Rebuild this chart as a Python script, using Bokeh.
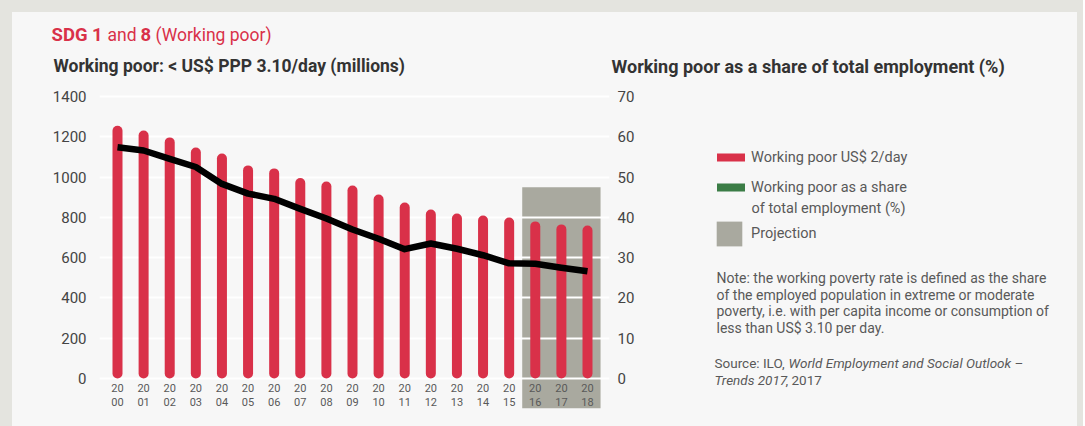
from bokeh.plotting import figure
from bokeh.layouts import column, row
from bokeh.models import (Range1d, LinearAxis, SingleIntervalTicker, Label,
                          Legend, LegendItem)
from bokeh.core.properties import value
from bokeh.embed import file_html
from bokeh.resources import INLINE

# ---------------- data ----------------
years = list(range(2000, 2019))
working_poor_millions = [1255, 1231, 1197, 1147, 1117, 1058, 1043, 995, 978, 958,
                         913, 874, 839, 819, 809, 799, 780, 765, 760]
working_poor_share_pct = [57.4, 56.6, 54.5, 52.5, 48.3, 45.9, 44.6, 42.1, 39.7, 37.0,
                          34.7, 32.1, 33.5, 32.2, 30.6, 28.6, 28.5, 27.5, 26.6]
projection_years = [2016, 2017, 2018]
year_labels = [f"{str(y)[:2]}\n{str(y)[2:]}" for y in years]
left_axis_max = 1400
right_axis_max = 70

# ---------------- styles ----------------
RED = "#d93149"
GREEN = "#3b7d46"
GRAY = "#a9a99f"
PANEL = "#f7f7f7"
FRAME = "#e4e4df"
DARK = "#333333"
MID = "#595959"
FONT = "Roboto"
NAN = float("nan")

# page layout (pixels)
PAGE_L, PAGE_T, PAGE_R, PAGE_B = 12, 12, 1077, 426
HEADER_B = 80
SPLIT_X = 660

# chart pixel mapping helpers (page pixels -> data units)
X0_PX, X_PPU = 117.0, 26.111
Y0_PX = 378.0
Y_PPU = (378.0 - 96.0) / left_axis_max
PCT_SCALE = left_axis_max / right_axis_max


def dx(px):
    return years[0] + (px - X0_PX) / X_PPU


def dy(py):
    return (Y0_PX - py) / Y_PPU


def blank_fig(x0, x1, y0, y1):
    f = figure(width=x1 - x0, height=y1 - y0,
               x_range=Range1d(x0, x1), y_range=Range1d(y1, y0),
               x_axis_location=None, y_axis_location=None,
               output_backend="svg", toolbar_location=None,
               min_border=0, background_fill_color=PANEL, border_fill_color=PANEL,
               outline_line_color=None)
    f.grid.visible = False
    return f


def add_label(f, text, px, py, size, color, style="normal"):
    f.add_layout(Label(x=px, y=py, text=text, text_font=FONT,
                       text_font_size=size, text_color=color, text_font_style=style,
                       text_align="left", text_baseline="middle"))


# ---------------- header ----------------
header = blank_fig(PAGE_L, PAGE_R, PAGE_T, HEADER_B)
add_label(header, "SDG 1", 51, 34, "18.5px", RED, "bold")
add_label(header, "and", 107, 34, "17.5px", RED)
add_label(header, "8", 140, 34, "18.5px", RED, "bold")
add_label(header, "(Working poor)", 155, 34, "17.5px", RED)
add_label(header, "Working poor: < US$ PPP 3.10/day (millions)", 53, 65.5, "17.5px", DARK, "bold")
add_label(header, "Working poor as a share of total employment (%)", 611, 65.5, "18px", DARK, "bold")

# ---------------- chart ----------------
p = figure(width=SPLIT_X - PAGE_L, height=PAGE_B - HEADER_B,
           x_range=Range1d(dx(99), dx(609)),
           y_range=Range1d(dy(408), dy(92)),
           output_backend="svg", toolbar_location=None,
           min_border_left=99 - PAGE_L, min_border_right=SPLIT_X - 609,
           min_border_top=92 - HEADER_B, min_border_bottom=PAGE_B - 408,
           background_fill_color=PANEL, border_fill_color=PANEL,
           outline_line_color=None)

p.extra_y_ranges = {"pct": Range1d(p.y_range.start / PCT_SCALE, p.y_range.end / PCT_SCALE)}

left_ticker = SingleIntervalTicker(interval=200)
p.yaxis.ticker = left_ticker
p.ygrid.ticker = left_ticker
p.xaxis.visible = False
p.xgrid.visible = False
p.ygrid.grid_line_color = "white"
p.ygrid.grid_line_width = 2

right_axis = LinearAxis(y_range_name="pct", ticker=SingleIntervalTicker(interval=10))
p.add_layout(right_axis, "right")

for ax, standoff in ((p.yaxis[0], 13), (right_axis, 8)):
    ax.axis_line_color = None
    ax.major_tick_line_color = None
    ax.minor_tick_line_color = None
    ax.major_tick_out = 0
    ax.major_tick_in = 0
    ax.minor_tick_out = 0
    ax.major_label_standoff = standoff
    ax.major_label_text_font = FONT
    ax.major_label_text_font_size = "15px"
    ax.major_label_text_color = "#444444"

# projection box
p.quad(left=[projection_years[0] - 0.5], right=[projection_years[-1] + 0.5],
       bottom=[p.y_range.start], top=[950],
       fill_color=GRAY, line_color=None, level="image")

# bars
p.vbar(x=years, top=working_poor_millions, bottom=0, width=10 / X_PPU,
       fill_color=RED, line_color=None, border_radius=5)

# share line
p.line(x=years, y=working_poor_share_pct, y_range_name="pct",
       line_color="black", line_width=6.5, line_join="round")

# year labels
p.text(x=years, y=[dy(395)] * len(years), text=year_labels,
       text_align="center", text_baseline="middle", text_font=value(FONT),
       text_font_size="11px", text_color=MID, text_line_height=1.1)

# ---------------- side panel: legend and notes ----------------
side = blank_fig(SPLIT_X, PAGE_R, HEADER_B, PAGE_B)

# legend-only renderers (no visible data)
red_proxy = side.line(x=[NAN], y=[NAN], line_color=RED, line_width=8, line_cap="round")
green_proxy = side.line(x=[NAN], y=[NAN], line_color=GREEN, line_width=8, line_cap="round")
proj_proxy = side.quad(left=[NAN], right=[NAN], bottom=[NAN], top=[NAN],
                       fill_color=GRAY, line_color=None)

legend_style = dict(padding=0, margin=0, border_line_color=None, background_fill_alpha=0,
                    label_text_font=FONT, label_text_font_size="14.5px",
                    label_text_color=MID)

legend1 = Legend(items=[LegendItem(label="Working poor US$ 2/day", renderers=[red_proxy]),
                        LegendItem(label="Working poor as a share", renderers=[green_proxy])],
                 location=(717 - SPLIT_X, PAGE_B - 196 - 19), glyph_width=28, glyph_height=20,
                 spacing=10, label_standoff=6, **legend_style)
side.add_layout(legend1)

legend2 = Legend(items=[LegendItem(label="Projection", renderers=[proj_proxy])],
                 location=(713 - SPLIT_X, PAGE_B - 249 - 18), glyph_width=32, glyph_height=31,
                 label_standoff=6, **legend_style)
side.add_layout(legend2)

add_label(side, "of total employment (%)", 751, 207, "14.5px", MID)

note_lines = ["Note: the working poverty rate is defined as the share",
              "of the employed population in extreme or moderate",
              "poverty, i.e. with per capita income or consumption of",
              "less than US$ 3.10 per day."]
for i, line in enumerate(note_lines):
    add_label(side, line, 716, 283 + i * 18.3, "14px", MID)

add_label(side, "Source: ILO,", 714, 376, "13.5px", MID)
add_label(side, "World Employment and Social Outlook \u2013", 788, 376, "13.5px", MID, "italic")
add_label(side, "Trends 2017", 714, 395, "13.5px", MID, "italic")
add_label(side, ", 2017", 785, 395, "13.5px", MID)

layout = column(header, row(p, side))
layout.styles = {"border-left": f"12px solid {FRAME}", "border-top": f"12px solid {FRAME}",
                 "border-right": f"6px solid {FRAME}", "background-color": PANEL}

open("out.html", "w").write(file_html(layout, INLINE))
